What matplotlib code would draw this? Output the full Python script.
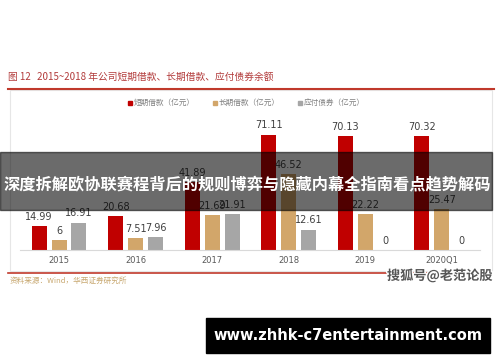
import matplotlib
matplotlib.use('Agg')
import matplotlib.pyplot as plt
import numpy as np
from matplotlib.patches import Rectangle
import matplotlib.patheffects as pe

plt.rcParams['font.family'] = ['Noto Sans CJK SC', 'DejaVu Sans']

# 数据
years = ['2015', '2016', '2017', '2018', '2019', '2020Q1']
short_loan = [14.99, 20.68, 41.89, 71.11, 70.13, 70.32]
long_loan = [6, 7.51, 21.69, 46.52, 22.22, 25.47]
bonds = [16.91, 7.96, 21.91, 12.61, 0, 0]
series_names = ['短期借款（亿元）', '长期借款（亿元）', '应付债券（亿元）']
colors = ['#c00000', '#d2a66a', '#a6a6a6']

W, H = 500, 362


def fx(x):
    return x / W


def fy(y):
    return 1 - y / H


fig = plt.figure(figsize=(5, 3.62), dpi=100)
fig.patch.set_facecolor('white')

# 标题和红线
fig.text(fx(8), fy(77), '图 12   2015~2018 年公司短期借款、长期借款、应付债券余额',
         color='#b23a3a', fontsize=7, va='center', ha='left')
fig.add_artist(plt.Line2D([fx(8), fx(494)], [fy(89), fy(89)], color='#c0392b', lw=1.5))
# 图框
fig.add_artist(Rectangle((fx(10), fy(271)), fx(492) - fx(10), fy(90) - fy(271),
                         fill=False, ec='#e6e6e6', lw=0.8))
fig.add_artist(plt.Line2D([fx(8), fx(490)], [fy(273), fy(273)], color='#c0392b', lw=1.2))

# 柱状图
ax = fig.add_axes([fx(20), fy(250), fx(480) - fx(20), fy(112) - fy(250)])
x = np.arange(len(years))
w = 0.196
off = 0.26
for i, (vals, c) in enumerate(zip([short_loan, long_loan, bonds], colors)):
    pos = x + (i - 1) * off
    ax.bar(pos, vals, width=w, color=c, zorder=2)
    for p, v in zip(pos, vals):
        ax.text(p, v + 2.5, f'{v:g}', ha='center', va='bottom', fontsize=7,
                color='#404040', family='DejaVu Sans')

ax.set_xlim(-0.51, 5.5)
ax.set_ylim(0, 85)
ax.set_yticks([])
ax.set_xticks(x)
ax.set_xticklabels(years, fontsize=6, color='#595959', family='DejaVu Sans')
ax.tick_params(axis='x', length=0, pad=4)
for s in ['top', 'right', 'left']:
    ax.spines[s].set_visible(False)
ax.spines['bottom'].set_color('#d9d9d9')
ax.spines['bottom'].set_linewidth(0.8)
ax.patch.set_alpha(0)

# 图例
leg_x = [128, 213, 298]
for lx, name, c in zip(leg_x, series_names, colors):
    fig.add_artist(Rectangle((fx(lx), fy(105)), 4 / W, 4 / H, color=c))
    fig.text(fx(lx + 6), fy(103), name, fontsize=5.5, color='#7f7f7f', va='center')

# 资料来源
fig.text(fx(10), fy(281), '资料来源：Wind，华西证券研究所', fontsize=5.5,
         color='#c8a870', va='center')

# 水印
fig.text(fx(440), fy(276), '搜狐号@老范论股', fontsize=9.5, color='#555555',
         ha='center', va='center', weight='bold',
         path_effects=[pe.withStroke(linewidth=2, foreground='white')])

# 半透明横幅
fig.add_artist(Rectangle((0, fy(210)), fx(492), fy(152) - fy(210),
                         color='black', alpha=0.58, zorder=5))
fig.text(fx(247), fy(184), '深度拆解欧协联赛程背后的规则博弈与隐藏内幕全指南看点趋势解码',
         fontsize=11.7, color='white', weight='bold', ha='center', va='center', zorder=6)

# 底部网址
fig.add_artist(Rectangle((fx(206), fy(353)), fx(490) - fx(206), fy(318) - fy(353),
                         color='black', zorder=5))
fig.text(fx(348), fy(335.5), 'www.zhhk-c7entertainment.com', fontsize=10.5,
         color='white', weight='bold', ha='center', va='center', zorder=6,
         family='DejaVu Sans')

plt.savefig('out.png', dpi=100)
